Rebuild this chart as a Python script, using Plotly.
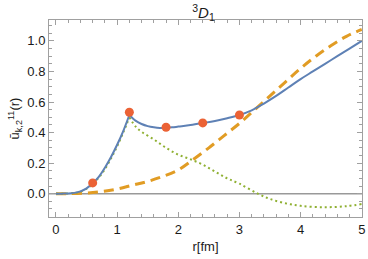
import plotly.graph_objects as go

# Blue solid curve
r_blue = [0, 0.1, 0.2, 0.3, 0.4, 0.5, 0.6, 0.7, 0.8, 0.9, 1.0, 1.1, 1.2,
          1.25, 1.3, 1.4, 1.5, 1.6, 1.7, 1.8, 1.9, 2.0, 2.2, 2.4, 2.6, 2.8,
          3.0, 3.2, 3.4, 3.6, 3.8, 4.0, 4.2, 4.4, 4.6, 4.8, 5.0]
u_blue = [0, 0, 0.001, 0.005, 0.015, 0.035, 0.068, 0.11, 0.17, 0.24, 0.32, 0.41, 0.515,
          0.495, 0.478, 0.456, 0.442, 0.434, 0.43, 0.431, 0.434, 0.439, 0.449, 0.462, 0.476, 0.494,
          0.515, 0.545, 0.59, 0.64, 0.695, 0.75, 0.80, 0.85, 0.90, 0.95, 1.0]

# Orange dashed curve
r_orange = [0, 0.25, 0.5, 0.75, 1.0, 1.25, 1.5, 1.75, 2.0, 2.25, 2.5, 2.75, 3.0,
            3.25, 3.5, 3.75, 4.0, 4.25, 4.5, 4.75, 5.0]
u_orange = [0, 0.0, 0.004, 0.014, 0.03, 0.055, 0.08, 0.113, 0.155, 0.225, 0.30, 0.38, 0.46,
            0.55, 0.64, 0.73, 0.82, 0.90, 0.97, 1.03, 1.075]

# Green dotted curve
r_green = [0, 0.1, 0.2, 0.3, 0.4, 0.5, 0.6, 0.7, 0.8, 0.9, 1.0, 1.1, 1.2,
           1.3, 1.4, 1.6, 1.8, 2.0, 2.2, 2.4, 2.6, 2.8, 3.0, 3.3, 3.5, 3.75,
           4.0, 4.4, 4.75, 5.0]
u_green = [0, 0, 0.001, 0.004, 0.013, 0.032, 0.063, 0.105, 0.16, 0.23, 0.31, 0.40, 0.50,
           0.44, 0.405, 0.355, 0.30, 0.255, 0.225, 0.19, 0.145, 0.10, 0.065, 0.0, -0.035, -0.063,
           -0.08, -0.089, -0.082, -0.068]

# Red points
r_pts = [0.6, 1.2, 1.8, 2.4, 3.0]
u_pts = [0.07, 0.533, 0.435, 0.463, 0.515]

R_CUSP = 1.2

FONT = "Liberation Sans"
TXT = "#1a1a1a"

fig = go.Figure()


def add_piecewise(r, u, line):
    k = r.index(R_CUSP)
    fig.add_trace(go.Scatter(x=r[:k + 1], y=u[:k + 1], mode="lines", line_shape="spline",
                             line=line, hoverinfo="skip"))
    fig.add_trace(go.Scatter(x=r[k:], y=u[k:], mode="lines", line_shape="spline",
                             line=line, hoverinfo="skip"))


fig.add_trace(go.Scatter(x=r_orange, y=u_orange, mode="lines", line_shape="spline",
                         line=dict(color="#E19C24", width=3, dash="10px,6px")))
add_piecewise(r_green, u_green, dict(color="#8FB032", width=2, dash="2px,3px"))
add_piecewise(r_blue, u_blue, dict(color="#5E81B5", width=2))
fig.add_trace(go.Scatter(x=r_pts, y=u_pts, mode="markers",
                         marker=dict(color="#EB6235", size=9)))

fig.add_shape(type="line", xref="paper", x0=0, x1=1, yref="y", y0=0, y1=0,
              line=dict(color="#999999", width=1.5), layer="below")

axis_common = dict(showline=True, linecolor="#A0A0A0", linewidth=1, mirror="ticks",
                   ticks="inside", tickcolor="#A0A0A0", ticklen=5, showgrid=False,
                   zeroline=False, tickfont=dict(family=FONT, size=13, color=TXT))

fig.update_xaxes(range=[-0.114, 5.004], dtick=1, tick0=0, ticklabeloverflow="allow",
                 minor=dict(dtick=0.2, ticks="inside", ticklen=3, tickcolor="#A0A0A0"),
                 title=dict(text="r[fm]", font=dict(family=FONT, size=13, color=TXT), standoff=6),
                 **axis_common)
fig.update_yaxes(range=[-0.153, 1.137], dtick=0.2, tick0=0, tickformat=".1f",
                 minor=dict(dtick=0.05, ticks="inside", ticklen=3, tickcolor="#A0A0A0"),
                 title=dict(text="ū<sub>k,2</sub><sup>11</sup>(r)", font=dict(family=FONT, size=13, color=TXT), standoff=4),
                 **axis_common)

fig.update_layout(
    width=368, height=259,
    margin=dict(l=49, r=3, t=20, b=42),
    paper_bgcolor="white", plot_bgcolor="white",
    showlegend=False,
    title=dict(text="<sup>3</sup><i>D</i><sub>1</sub>", x=0.553, xanchor="center", y=0.95, yanchor="middle",
               font=dict(family=FONT, size=15, color=TXT)),
)

fig.write_html("out.html", config={"displayModeBar": False},
               post_script="document.body.style.margin='0';document.body.style.overflow='hidden';")
